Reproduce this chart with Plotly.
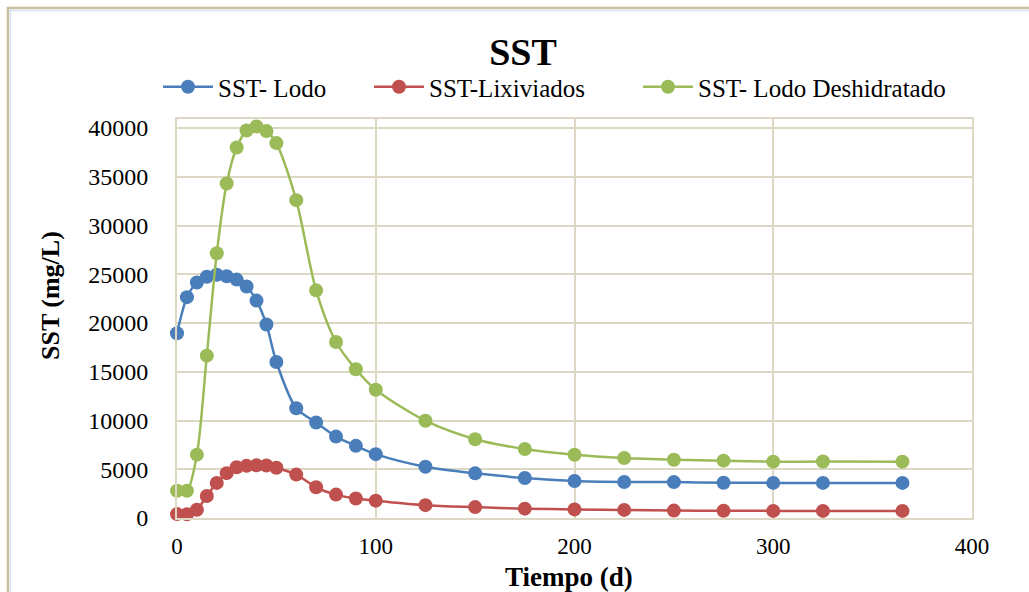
import plotly.graph_objects as go

# Sampling days (d)
days = [0, 5, 10, 15, 20, 25, 30, 35, 40, 45, 50, 60, 70, 80, 90, 100,
        125, 150, 175, 200, 225, 250, 275, 300, 325, 365]

# SST (mg/L) per series
sst_lodo = [18950, 22650, 24150, 24750, 24950, 24800, 24450, 23750, 22300, 19850,
            16000, 11250, 9800, 8350, 7400, 6550, 5250, 4580, 4100, 3800,
            3700, 3680, 3620, 3600, 3600, 3600]
sst_lixiviados = [400, 380, 850, 2250, 3600, 4600, 5200, 5350, 5400, 5380,
                  5150, 4450, 3150, 2400, 2000, 1780, 1320, 1120, 960, 880,
                  830, 760, 740, 730, 730, 730]
sst_deshidratado = [2800, 2800, 6500, 16650, 27150, 34300, 38000, 39750, 40150, 39700,
                    38450, 32600, 23350, 18050, 15250, 13150, 9980, 8080, 7070, 6480,
                    6150, 5980, 5880, 5780, 5790, 5780]

series_names = ["SST- Lodo", "SST-Lixiviados", "SST- Lodo Deshidratado"]
colors = ["#4a7ebb", "#c0504d", "#9bbb59"]

y_ticks = list(range(0, 40001, 5000))
x_ticks = [0, 100, 200, 300, 400]

SERIF = "Liberation Serif"
GRID = "#ddd8c3"

W, H = 1029, 592
L, R, T, B = 177, 972, 119, 518  # plot-area edges in pixels


def px(x):
    return (x - L) / (R - L)


def py(y):
    return (B - y) / (B - T)


legend_ids = ["legend", "legend2", "legend3"]
legend_left = [158, 369, 638]  # left edge of each legend entry, pixels

fig = go.Figure()
for name, vals, col, lg in zip(series_names,
                               [sst_lodo, sst_lixiviados, sst_deshidratado],
                               colors, legend_ids):
    fig.add_trace(go.Scatter(
        x=days, y=vals, name=name, mode="lines+markers", legend=lg, cliponaxis=False,
        line=dict(color=col, width=2.5, shape="spline", smoothing=0.8),
        marker=dict(color=col, size=14, line=dict(width=0)),
    ))

legend_style = dict(orientation="h", xanchor="left", y=py(87), yanchor="middle",
                    font=dict(family=SERIF, size=25, color="#000000"),
                    bgcolor="rgba(0,0,0,0)", itemwidth=50, borderwidth=0)

ymax = 40000 * (B - T) / (B - 128)

fig.update_layout(
    width=W, height=H,
    margin=dict(l=L, r=W - R, t=T, b=H - B, autoexpand=False),
    paper_bgcolor="white", plot_bgcolor="white",
    font=dict(family=SERIF, size=24, color="#000000"),
    title=dict(text="<b>SST</b>", font=dict(family=SERIF, size=38, color="#000000"),
               xref="paper", x=px(523), xanchor="center",
               yref="container", y=1 - 52 / H, yanchor="middle"),
    showlegend=True,
    legend=dict(x=px(legend_left[0]), **legend_style),
    legend2=dict(x=px(legend_left[1]), **legend_style),
    legend3=dict(x=px(legend_left[2]), **legend_style),
    xaxis=dict(range=[0, 400], tickvals=x_ticks, ticktext=[str(v) for v in x_ticks],
               showgrid=True, gridcolor=GRID, gridwidth=2,
               zeroline=False, showline=True, linecolor=GRID, linewidth=2, mirror=True,
               ticks="", ticklabelstandoff=6, tickfont=dict(family=SERIF, size=23)),
    yaxis=dict(range=[0, ymax], tickvals=y_ticks, ticktext=[str(v) for v in y_ticks],
               showgrid=True, gridcolor=GRID, gridwidth=2,
               zeroline=False, showline=True, linecolor=GRID, linewidth=2, mirror=True,
               ticks="", ticklabelstandoff=22, tickfont=dict(family=SERIF, size=24)),
    annotations=[
        dict(text="<b>SST (mg/L)</b>", xref="paper", yref="paper", x=px(50), y=py(296),
             textangle=-90, showarrow=False, xanchor="center", yanchor="middle",
             font=dict(family=SERIF, size=26, color="#000000")),
        dict(text="<b>Tiempo (d)</b>", xref="paper", yref="paper", x=px(569), y=py(577),
             showarrow=False, xanchor="center", yanchor="middle",
             font=dict(family=SERIF, size=27, color="#000000")),
    ],
    shapes=[
        # chart frame
        dict(type="rect", xref="paper", yref="paper", layer="below",
             x0=px(8), x1=px(1045), y0=py(610), y1=py(8),
             line=dict(color="#c9c19e", width=2.5), fillcolor="rgba(0,0,0,0)"),
        dict(type="rect", xref="paper", yref="paper", layer="below",
             x0=px(10.5), x1=px(1045), y0=py(610), y1=py(10.5),
             line=dict(color="#d5e3f3", width=1.5), fillcolor="rgba(0,0,0,0)"),
    ],
)

fig.write_html("out.html")
